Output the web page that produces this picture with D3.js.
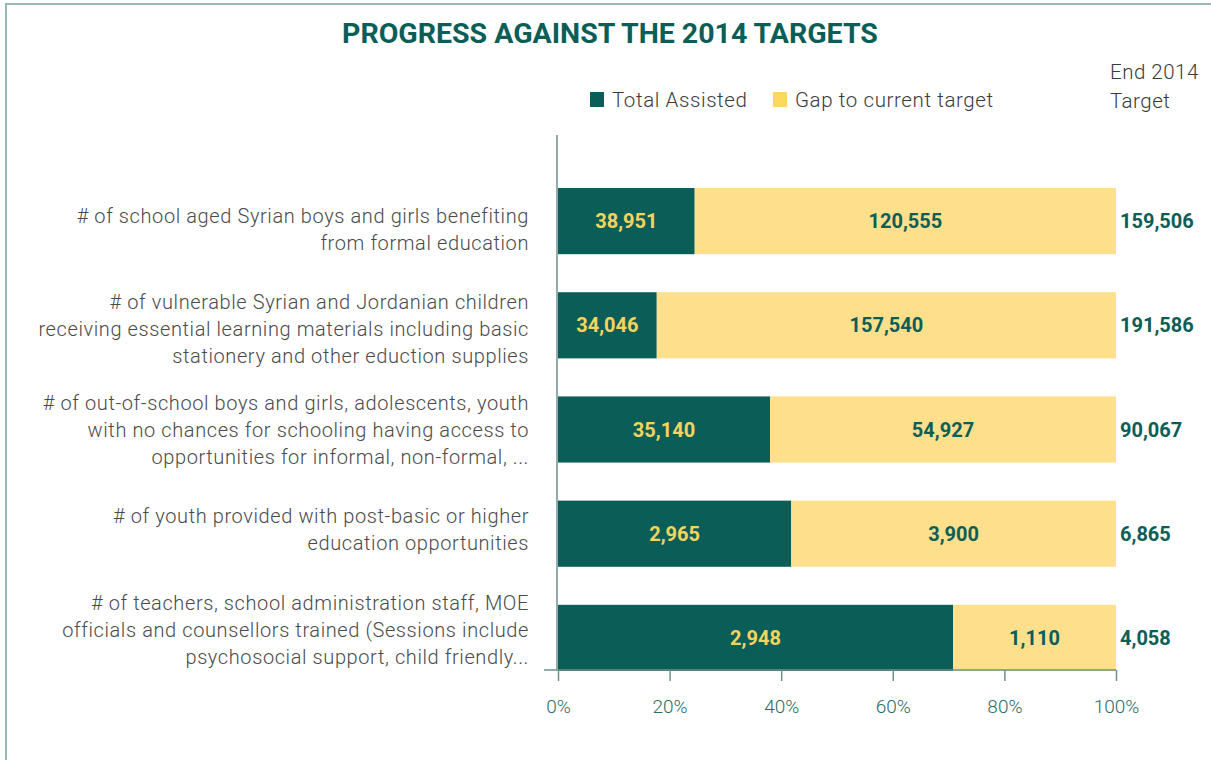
<!DOCTYPE html>
<html>
<head>
<meta charset="utf-8">
<script src="https://cdn.jsdelivr.net/npm/d3@7"></script>
<style>
  body { margin: 0; background: #fff; }
  svg { display: block; font-family: Roboto, "Noto Sans", sans-serif; }
</style>
</head>
<body>
<div id="chart"></div>
<script>
// Chart data
const categories = [
    ["# of school aged Syrian boys and girls benefiting", "from formal education"],
    ["# of vulnerable Syrian and Jordanian children", "receiving essential learning materials including basic", "stationery and other eduction supplies"],
    ["# of out-of-school boys and girls, adolescents, youth", "with no chances for schooling having access to", "opportunities for informal, non-formal, ..."],
    ["# of youth provided with post-basic or higher", "education opportunities"],
    ["# of teachers, school administration staff, MOE", "officials and counsellors trained (Sessions include", "psychosocial support, child friendly..."]
];
const assisted = [38951, 34046, 35140, 2965, 2948];
const gap = [120555, 157540, 54927, 3900, 1110];
const targets = [159506, 191586, 90067, 6865, 4058];
// share of the bar drawn as "assisted"
const assistedShare = [0.245, 0.177, 0.380, 0.418, 0.708];
const seriesNames = ["Total Assisted", "Gap to current target"];
const tickValues = [0, 0.2, 0.4, 0.6, 0.8, 1];

const width = 1211,
    height = 760;

const dark = "#0b5e57",
    yellow = "#fddf8c",
    labelYellow = "#f7d45e",
    frame = "#9ab8b3",
    axisCol = "#6f918c";

const svg = d3.select("#chart")
    .append("svg")
    .attr("width", width)
    .attr("height", height);

// Frame lines (top and left)
svg.append("line").attr("x1", 5).attr("x2", width).attr("y1", 4).attr("y2", 4)
    .attr("stroke", frame).attr("stroke-width", 2);
svg.append("line").attr("x1", 6).attr("x2", 6).attr("y1", 3).attr("y2", height)
    .attr("stroke", frame).attr("stroke-width", 2);

// Title
svg.append("text")
    .attr("x", 610)
    .attr("y", 43)
    .attr("text-anchor", "middle")
    .attr("fill", dark)
    .style("font-size", "28.5px")
    .style("font-weight", "700")
    .text("PROGRESS AGAINST THE 2014 TARGETS");

// Scales
const x = d3.scaleLinear().domain([0, 1]).range([558, 1116]);
const y = d3.scaleBand()
    .domain(d3.range(categories.length))
    .range([169, 690])
    .paddingInner(0.365)
    .paddingOuter(0.1825);
// category text sits on a slightly tighter spacing than the bars
const yLabel = d3.scalePoint()
    .domain(d3.range(categories.length))
    .range([229, 630]);

const rows = categories.map((c, i) => ({
    i: i,
    lines: c,
    a: assisted[i],
    g: gap[i],
    t: targets[i],
    pa: assistedShare[i]
}));

// Bars
const row = svg.selectAll(".row")
    .data(rows)
    .enter()
    .append("g")
    .attr("class", "row");

row.append("rect")
    .attr("x", x(0))
    .attr("y", d => y(d.i))
    .attr("width", d => x(d.pa) - x(0))
    .attr("height", y.bandwidth())
    .attr("fill", dark);

row.append("rect")
    .attr("x", d => x(d.pa))
    .attr("y", d => y(d.i))
    .attr("width", d => x(1) - x(d.pa))
    .attr("height", y.bandwidth())
    .attr("fill", yellow);

const fmt = d3.format(",");
const mid = d => y(d.i) + y.bandwidth() / 2;

row.append("text")
    .attr("x", d => (x(0) + x(d.pa)) / 2)
    .attr("y", mid)
    .attr("dy", "0.35em")
    .attr("text-anchor", "middle")
    .attr("fill", labelYellow)
    .style("font-size", "20px")
    .style("font-weight", "700")
    .text(d => fmt(d.a));

row.append("text")
    .attr("x", d => (x(d.pa) + x(1)) / 2)
    .attr("y", mid)
    .attr("dy", "0.35em")
    .attr("text-anchor", "middle")
    .attr("fill", dark)
    .style("font-size", "20px")
    .style("font-weight", "700")
    .text(d => fmt(d.g));

row.append("text")
    .attr("x", x(1) + 4)
    .attr("y", mid)
    .attr("dy", "0.35em")
    .attr("fill", dark)
    .style("font-size", "20px")
    .style("font-weight", "700")
    .text(d => fmt(d.t));

// Category labels
row.append("text")
    .attr("text-anchor", "end")
    .attr("fill", "#4a4a4a")
    .style("font-size", "20px")
    .style("font-weight", "300")
    .style("letter-spacing", "0.6px")
    .each(function(d) {
        const n = d.lines.length;
        d3.select(this).selectAll("tspan")
            .data(d.lines)
            .enter()
            .append("tspan")
            .attr("x", 529)
            .attr("y", (l, k) => yLabel(d.i) + (k - (n - 1) / 2) * 27)
            .attr("dy", "0.35em")
            .text(l => l);
    });

// Axes
svg.append("line")
    .attr("x1", 557).attr("x2", 557)
    .attr("y1", 135).attr("y2", 670)
    .attr("stroke", axisCol).attr("stroke-width", 1.5);

const xAxis = svg.append("g")
    .attr("transform", "translate(0,670)")
    .call(d3.axisBottom(x).tickValues(tickValues).tickFormat(d3.format(".0%")).tickSize(11).tickPadding(19));
xAxis.select(".domain").attr("d", "M544,0H" + x(1)).attr("stroke", axisCol).attr("stroke-width", 1.5);
xAxis.selectAll(".tick line").attr("stroke", axisCol).attr("stroke-width", 1.5);
xAxis.selectAll(".tick text")
    .attr("fill", "#2d6b66")
    .style("font-size", "19px")
    .style("font-weight", "300")
    .style("font-family", "Roboto, sans-serif");

// Legend
const legend = svg.append("g");
const legX = [590, 773];
const legCol = [dark, "#fdd75e"];
legCol.forEach((c, i) => {
    legend.append("rect")
        .attr("x", legX[i]).attr("y", 92)
        .attr("width", 14).attr("height", 15)
        .attr("fill", c);
    legend.append("text")
        .attr("x", legX[i] + 22).attr("y", 100)
        .attr("dy", "0.35em")
        .attr("fill", "#3a3a3a")
        .style("font-size", "20.5px")
        .style("font-weight", "300")
        .style("letter-spacing", "0.6px")
        .text(seriesNames[i]);
});

["End 2014", "Target"].forEach((t, i) => {
    svg.append("text")
        .attr("x", 1110).attr("y", 72 + i * 29).attr("dy", "0.35em")
        .attr("fill", "#3a3a3a")
        .style("font-size", "20.5px")
        .style("font-weight", "300")
        .style("letter-spacing", "0.5px")
        .text(t);
});
</script>
</body>
</html>
